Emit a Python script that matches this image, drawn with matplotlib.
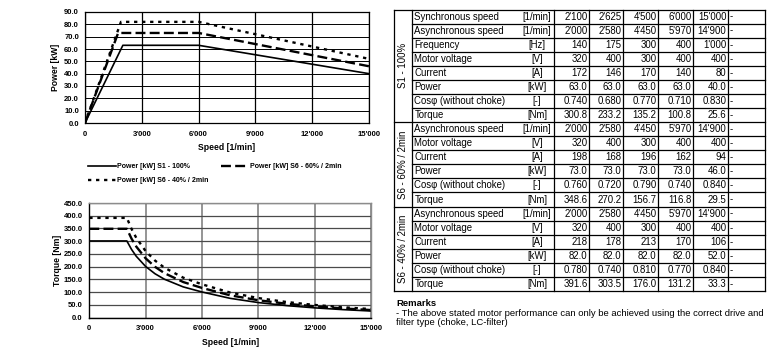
import matplotlib
matplotlib.use("Agg")
import matplotlib.pyplot as plt

plt.rcParams['font.family'] = ['Liberation Sans', 'DejaVu Sans']

# ---------------- data ----------------
speed_ticks = [0, 3000, 6000, 9000, 12000, 15000]
speed_tick_labels = ["0", "3'000", "6'000", "9'000", "12'000", "15'000"]
power_ticks = [0, 10, 20, 30, 40, 50, 60, 70, 80, 90]
torque_ticks = [0, 50, 100, 150, 200, 250, 300, 350, 400, 450]

series_labels = ["Power [kW] S1 - 100%", "Power [kW] S6 - 60% / 2min", "Power [kW] S6 - 40% / 2min"]

power_speed_s1 = [0, 2000, 6000, 15000]
power_s1 = [0, 63, 63, 40]
power_speed_s6_60 = [0, 1750, 6000, 15000]
power_s6_60 = [0, 73, 73, 46]
power_speed_s6_40 = [0, 1900, 6000, 15000]
power_s6_40 = [0, 82, 82, 52]

torque_speed = [0, 2000, 2250, 2500, 3000, 3500, 4000, 5000, 6000, 7500, 9000, 10500, 12000, 13500, 15000]
torque_s1 = [300.8, 300.8, 267.4, 240.6, 200.5, 171.9, 150.4, 120.3, 100.3, 75.3, 58.7, 46.8, 37.9, 31.0, 25.5]
torque_s6_60 = [348.6, 348.6, 309.8, 278.8, 232.4, 199.2, 174.3, 139.4, 116.2, 87.2, 67.9, 54.1, 43.8, 35.7, 29.3]
torque_s6_40 = [391.5, 391.5, 348.0, 313.2, 261.0, 223.7, 195.7, 156.6, 130.5, 98.0, 76.4, 60.9, 49.3, 40.3, 33.1]

group_labels = ["S1 - 100%", "S6 - 60% / 2min", "S6 - 40% / 2min"]
params_s1 = ["Synchronous speed", "Asynchronous speed", "Frequency", "Motor voltage",
             "Current", "Power", "Cosφ (without choke)", "Torque"]
units_s1 = ["[1/min]", "[1/min]", "[Hz]", "[V]", "[A]", "[kW]", "[-]", "[Nm]"]
values_s1 = [
    ["2'100", "2'625", "4'500", "6'000", "15'000"],
    ["2'000", "2'580", "4'450", "5'970", "14'900"],
    ["140", "175", "300", "400", "1'000"],
    ["320", "400", "300", "400", "400"],
    ["172", "146", "170", "140", "80"],
    ["63.0", "63.0", "63.0", "63.0", "40.0"],
    ["0.740", "0.680", "0.770", "0.710", "0.830"],
    ["300.8", "233.2", "135.2", "100.8", "25.6"],
]
params_s6 = ["Asynchronous speed", "Motor voltage", "Current", "Power",
             "Cosφ (without choke)", "Torque"]
units_s6 = ["[1/min]", "[V]", "[A]", "[kW]", "[-]", "[Nm]"]
values_s6_60 = [
    ["2'000", "2'580", "4'450", "5'970", "14'900"],
    ["320", "400", "300", "400", "400"],
    ["198", "168", "196", "162", "94"],
    ["73.0", "73.0", "73.0", "73.0", "46.0"],
    ["0.760", "0.720", "0.790", "0.740", "0.840"],
    ["348.6", "270.2", "156.7", "116.8", "29.5"],
]
values_s6_40 = [
    ["2'000", "2'580", "4'450", "5'970", "14'900"],
    ["320", "400", "300", "400", "400"],
    ["218", "178", "213", "170", "106"],
    ["82.0", "82.0", "82.0", "82.0", "52.0"],
    ["0.780", "0.740", "0.810", "0.770", "0.840"],
    ["391.6", "303.5", "176.0", "131.2", "33.3"],
]
remarks_title = "Remarks"
remarks_lines = ["- The above stated motor performance can only be achieved using the correct drive and",
                 "filter type (choke, LC-filter)"]

# ---------------- figure ----------------
W, H = 782, 348
fig = plt.figure(figsize=(W / 100, H / 100), dpi=100)

def px_axes(left, top, right, bottom):
    return fig.add_axes([left / W, 1 - bottom / H, (right - left) / W, (bottom - top) / H])

styles = [
    dict(color='black', lw=1.2, linestyle='-'),
    dict(color='black', lw=1.7, linestyle=(0, (4.2, 1.8))),
    dict(color='black', lw=1.7, linestyle=(0, (1.4, 2.0))),
]

tick_fs = 5.5
lab_fs = 6.2

# ---- power chart ----
ax1 = px_axes(85, 12, 369, 123)
h1 = ax1.plot(power_speed_s1, power_s1, **styles[0])[0]
h2 = ax1.plot(power_speed_s6_60, power_s6_60, **styles[1])[0]
h3 = ax1.plot(power_speed_s6_40, power_s6_40, **styles[2])[0]
ax1.set_xlim(0, 15000)
ax1.set_ylim(0, 90)
ax1.set_xticks(speed_ticks)
ax1.set_xticklabels(speed_tick_labels)
ax1.set_yticks(power_ticks)
ax1.set_yticklabels([f"{v:.1f}" for v in power_ticks])
ax1.grid(axis='y', color='black', lw=0.7)
ax1.grid(axis='x', color='black', lw=0.9)
ax1.set_axisbelow(True)
for s in ax1.spines.values():
    s.set_color('black'); s.set_linewidth(0.9)
ax1.tick_params(length=0, labelsize=tick_fs)
ax1.tick_params(axis='x', pad=5.5)
ax1.tick_params(axis='y', pad=4.3)
for t in ax1.get_xticklabels() + ax1.get_yticklabels():
    t.set_fontweight('bold')
ax1.set_xlabel("Speed [1/min]", fontsize=lab_fs, fontweight='bold', va='center')
ax1.xaxis.set_label_coords(0.5, (123 - 147) / 111)
ax1.set_ylabel("Power [kW]", fontsize=lab_fs, fontweight='bold', va='center')
ax1.yaxis.set_label_coords((55 - 85) / 284, 0.5)

# legend
fig.legend([h1, h3, h2], [series_labels[0], series_labels[2], series_labels[1]],
           ncol=2, loc='upper left', bbox_to_anchor=(88 / W, 1 - 163.5 / H),
           frameon=False, prop=dict(size=5.0, weight='bold'),
           handlelength=4.0, handletextpad=0.2, columnspacing=1.8,
           labelspacing=1.0, borderpad=0.0, borderaxespad=0.0)

# ---- torque chart ----
ax2 = px_axes(89.3, 203, 371, 317.5)
ax2.plot(torque_speed, torque_s1, **styles[0])
ax2.plot(torque_speed, torque_s6_60, **styles[1])
ax2.plot(torque_speed, torque_s6_40, **styles[2])
ax2.set_xlim(0, 15000)
ax2.set_ylim(0, 450)
ax2.set_xticks(speed_ticks)
ax2.set_xticklabels(speed_tick_labels)
ax2.set_yticks(torque_ticks)
ax2.set_yticklabels([f"{v:.1f}" for v in torque_ticks])
ax2.grid(axis='y', color='#4a4a4a', lw=0.9)
ax2.grid(axis='x', color='#8c8c8c', lw=1.3)
ax2.set_axisbelow(True)
for k, s in ax2.spines.items():
    s.set_linewidth(1.0)
    s.set_color('black' if k in ('left', 'bottom') else '#8c8c8c')
ax2.tick_params(length=0, labelsize=tick_fs)
ax2.tick_params(axis='x', pad=5.5)
ax2.tick_params(axis='y', pad=4.8)
for t in ax2.get_xticklabels() + ax2.get_yticklabels():
    t.set_fontweight('bold')
ax2.set_xlabel("Speed [1/min]", fontsize=lab_fs, fontweight='bold', va='center')
ax2.xaxis.set_label_coords(0.5, (317.5 - 342.7) / 114.5)
ax2.set_ylabel("Torque [Nm]", fontsize=lab_fs, fontweight='bold', va='center')
ax2.yaxis.set_label_coords((57 - 89.3) / 281.7, 0.5)

# ---- table (overlay axes in pixel coordinates) ----
axt = fig.add_axes([0, 0, 1, 1], zorder=-1)
axt.set_xlim(0, W)
axt.set_ylim(H, 0)
axt.axis('off')

x_left, x_grp, x_unit_c = 394, 412, 537
col_edges = [554, 589, 623, 658, 693, 728, 765]
y_top, y_bot = 9.5, 291
n_rows = 20
rh = (y_bot - y_top) / n_rows
tfs = 6.9
lw_t = 0.9

groups = [
    (group_labels[0], params_s1, units_s1, values_s1),
    (group_labels[1], params_s6, units_s6, values_s6_60),
    (group_labels[2], params_s6, units_s6, values_s6_40),
]
row = 0
axt.plot([x_left, col_edges[-1]], [y_top, y_top], color='black', lw=lw_t)
for glabel, params, units, vals in groups:
    g_start = row
    for p, u, v in zip(params, units, vals):
        yc = y_top + (row + 0.5) * rh
        axt.text(x_grp + 2.5, yc, p, fontsize=tfs, ha='left', va='center')
        axt.text(x_unit_c, yc, u, fontsize=tfs, ha='center', va='center')
        for i, val in enumerate(v):
            axt.text(col_edges[i + 1] - 1.5, yc, val, fontsize=tfs, ha='right', va='center')
        axt.text(col_edges[5] + 1.5, yc, "-", fontsize=tfs, ha='left', va='center')
        row += 1
        yb = y_top + row * rh
        if row - g_start < len(params):
            axt.plot([x_grp, col_edges[-1]], [yb, yb], color='black', lw=lw_t)
    yb = y_top + row * rh
    axt.plot([x_left, col_edges[-1]], [yb, yb], color='black', lw=lw_t)
    ymid = y_top + (g_start + row) / 2 * rh
    axt.text((x_left + x_grp) / 2 + 0.5, ymid, glabel, fontsize=tfs, rotation=90,
             ha='center', va='center')
for xv in [x_left, x_grp] + col_edges:
    axt.plot([xv, xv], [y_top, y_bot], color='black', lw=lw_t)

# remarks
axt.text(396, 303, remarks_title, fontsize=6.8, fontweight='bold', ha='left', va='center')
axt.text(396, 313, remarks_lines[0], fontsize=6.8, ha='left', va='center')
axt.text(396, 322.5, remarks_lines[1], fontsize=6.8, ha='left', va='center')

fig.savefig("out.png", dpi=100)
